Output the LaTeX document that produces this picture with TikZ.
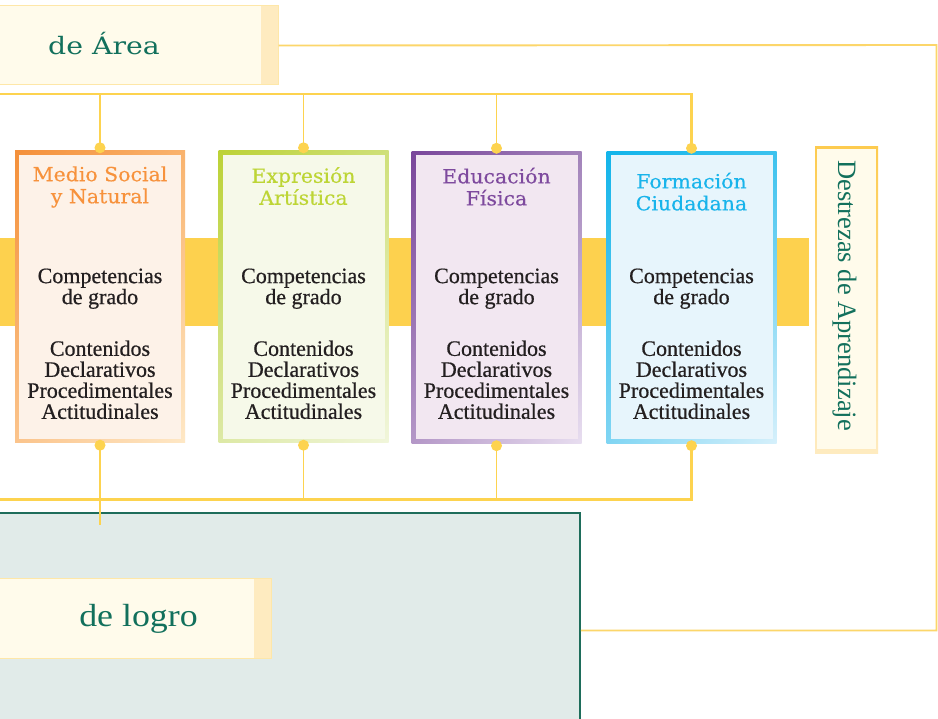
\documentclass[tikz,border=0pt]{standalone}
\usepackage{fontspec}
\setmainfont{Liberation Serif}
\newfontfamily\bodyfont[FakeBold=0.6]{Liberation Serif}
\newfontfamily\ttlfont[FakeStretch=1.05,FakeBold=0.4]{DejaVu Serif}
\newfontfamily\areafont[FakeStretch=1.18]{DejaVu Serif}
\newfontfamily\logrofont[FakeStretch=1.12]{Liberation Serif}
\usetikzlibrary{shadings}
\definecolor{lineY}{HTML}{FDD34F}
\definecolor{outerY}{HTML}{FCD66A}
\definecolor{bandY}{HTML}{FDD14E}
\definecolor{cream}{HTML}{FFFBEB}
\definecolor{creamedge}{HTML}{FEE7A8}
\definecolor{stripY}{HTML}{FEEBC0}
\definecolor{dkgreen}{HTML}{12705C}
\definecolor{tealbg}{HTML}{E1EBE9}
\definecolor{tealedge}{HTML}{1E6D5B}
\definecolor{bodytext}{HTML}{231F20}
\definecolor{destA}{HTML}{FDCB4F}
\definecolor{msA}{HTML}{F4903A}\definecolor{msB}{HTML}{F9B36E}\definecolor{msC}{HTML}{FBC48C}\definecolor{msD}{HTML}{FEE8C6}\definecolor{msF}{HTML}{FDF2E8}\definecolor{msT}{HTML}{F7923C}
\definecolor{eaA}{HTML}{BCD236}\definecolor{eaB}{HTML}{CFE07A}\definecolor{eaC}{HTML}{DDE9A6}\definecolor{eaD}{HTML}{F1F6DB}\definecolor{eaF}{HTML}{F6F9E9}\definecolor{eaT}{HTML}{BDD535}
\definecolor{efA}{HTML}{7A479B}\definecolor{efB}{HTML}{A283BA}\definecolor{efC}{HTML}{B497C7}\definecolor{efD}{HTML}{E8DEF0}\definecolor{efF}{HTML}{F2E7F1}\definecolor{efT}{HTML}{7E4A9E}
\definecolor{fcA}{HTML}{12B4EA}\definecolor{fcB}{HTML}{3CC2EE}\definecolor{fcC}{HTML}{80D5F3}\definecolor{fcD}{HTML}{D6F0FB}\definecolor{fcF}{HTML}{E7F5FC}\definecolor{fcT}{HTML}{18B4EB}
\tikzset{
  conn/.style={draw=lineY, line width=1.9pt},
  bus/.style={draw=lineY, line width=2.5pt},
  outerline/.style={draw=outerY, line width=1.9pt},
  dotmark/.style={fill=lineY},
  cardframe/.style={rectangle, minimum width=170pt, minimum height=292pt, inner sep=0pt},
  cardinner/.style={rectangle, minimum width=162pt, minimum height=284pt, inner sep=0pt},
  ttl/.style={align=center, inner sep=0pt, font=\ttlfont\fontsize{19.5}{22}\selectfont},
  body/.style={align=center, inner sep=0pt, text=bodytext, font=\bodyfont\fontsize{22}{21}\selectfont},
  labelbox/.style={rectangle, fill=cream, draw=creamedge, line width=1pt, inner sep=0pt,
     path picture={\fill[stripY] ([xshift=-17pt]path picture bounding box.north east) rectangle (path picture bounding box.south east);}},
}
\begin{document}
\begin{tikzpicture}[x=1pt,y=-1pt]
\useasboundingbox (0,0) rectangle (938,719);
\clip (0,0) rectangle (938,719);
\fill[white] (0,0) rectangle (938,719);
% yellow band
\fill[bandY] (-5,238) rectangle (809,326);
% top area label
\node[labelbox, minimum width=288pt, minimum height=79pt] (area) at (134,45.5) {};
\node[anchor=base, text=dkgreen, inner sep=0pt, font=\areafont\fontsize{24}{24}\selectfont] (areat) at (104,55) {de Área};
% cards
\node[cardframe, upper left=msA, upper right=msB, lower left=msC, lower right=msD] (ms) at (100,297) {};
\node[cardinner, fill=msF] (msin) at (100,297) {};
\node[cardframe, upper left=eaA, upper right=eaB, lower left=eaC, lower right=eaD] (ea) at (303.5,297) {};
\node[cardinner, fill=eaF] (eain) at (303.5,297) {};
\node[cardframe, upper left=efA, upper right=efB, lower left=efC, lower right=efD] (ef) at (496.5,297.5) {};
\node[cardinner, fill=efF] (efin) at (496.5,297.5) {};
\node[cardframe, upper left=fcA, upper right=fcB, lower left=fcC, lower right=fcD] (fc) at (691.5,297.5) {};
\node[cardinner, fill=fcF] (fcin) at (691.5,297.5) {};
% card texts
\node[ttl, text=msT] (mst) at (100,187) {Medio Social\\y Natural};
\node[ttl, text=eaT] (eat) at (303.5,186.1) {Expresión\\Artística};
\node[ttl, text=efT] (eft) at (496.5,186.7) {Educación\\Física};
\node[ttl, text=fcT] (fct) at (691.5,191.7) {Formación\\Ciudadana};
\foreach \n/\x in {ms/100, ea/303.5, ef/496.5, fc/691.5}{
  \node[body] (\n comp) at (\x,288.7) {Competencias\\de grado};
  \node[body] (\n cont) at (\x,379.8) {Contenidos\\Declarativos\\Procedimentales\\Actitudinales};
}
% Destrezas box
\node[rectangle, inner sep=0pt, minimum width=63pt, minimum height=307pt, top color=destA, bottom color=stripY] (dest) at (846.5,300.5) {};
\node[rectangle, inner sep=0pt, fill=cream, minimum width=59pt, minimum height=300pt] (destin) at (846.5,299) {};
\node[rotate=-90, anchor=base, inner sep=0pt, text=dkgreen, font=\fontsize{26.5}{26.5}\selectfont] (destt) at (838,295.5) {Destrezas de Aprendizaje};
% teal box and logro label
\node[rectangle, fill=tealbg, draw=tealedge, line width=1.5pt, inner sep=0pt, minimum width=590pt, minimum height=250pt] (logro) at (285,638) {};
\node[labelbox, minimum width=281pt, minimum height=80pt] (logrolab) at (130.5,618) {};
\node[anchor=base, text=dkgreen, inner sep=0pt, font=\logrofont\fontsize{32}{32}\selectfont] (logrot) at (138.5,626) {de logro};
% connectors
\coordinate (topL) at (-5,94);
\coordinate (botL) at (-5,499.5);
\coordinate (mstail) at (0,525);
\coordinate (rTop) at (936.5,45);
\coordinate (rBot) at (936.5,630.5);
\draw[outerline] (area.east) -- (rTop) -- (rBot) -- (logro.east |- rBot);
\draw[bus] (topL) -| (fc.north);
\draw[bus] (botL) -| (fc.south);
\foreach \n in {ms, ea, ef}{
  \draw[conn] (\n.north) -- (\n.north |- topL);
  \draw[conn] (\n.south) -- (\n.south |- botL);
}
\draw[conn] (ms.south) -- (ms.south |- mstail);
\foreach \n in {ms, ea, ef, fc}{
  \fill[dotmark] ([yshift=3pt]\n.north) circle (5.5pt);
  \fill[dotmark] ([yshift=-2pt]\n.south) circle (5.5pt);
}
\end{tikzpicture}
\end{document}
